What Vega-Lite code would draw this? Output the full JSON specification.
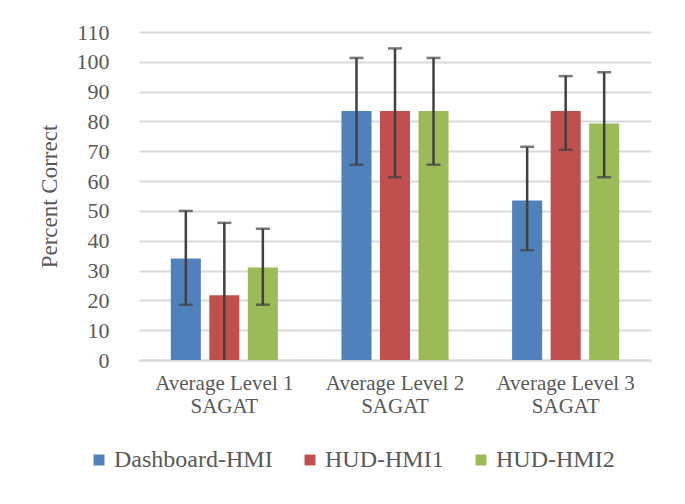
{
  "$schema": "https://vega.github.io/schema/vega-lite/v6.json",
  "autosize": {"type": "none"},
  "width": 512,
  "height": 328,
  "padding": {"left": 139, "top": 32, "right": 34, "bottom": 144},
  "background": "white",
  "config": {
    "font": "Liberation Serif",
    "view": {"stroke": null},
    "axis": {"labelColor": "#595959", "titleColor": "#595959", "labelFont": "Liberation Serif", "titleFont": "Liberation Serif"},
    "axisY": {
      "values": [0, 10, 20, 30, 40, 50, 60, 70, 80, 90, 100, 110],
      "domain": false, "ticks": false, "gridColor": "#d9d9d9", "gridWidth": 2,
      "labelFontSize": 22, "labelPadding": 30, "titleFontSize": 23, "titleFontWeight": "normal", "titlePadding": 15
    },
    "legend": {"labelFont": "Liberation Serif"}
  },
  "data": {
    "values": [
      {"group": "Average Level 1 SAGAT", "series": "Dashboard-HMI", "value": 34, "lower": 18.5, "upper": 50},
      {"group": "Average Level 1 SAGAT", "series": "HUD-HMI1", "value": 21.7, "lower": -2, "upper": 46},
      {"group": "Average Level 1 SAGAT", "series": "HUD-HMI2", "value": 31, "lower": 18.5, "upper": 44},
      {"group": "Average Level 2 SAGAT", "series": "Dashboard-HMI", "value": 83.5, "lower": 65.5, "upper": 101.3},
      {"group": "Average Level 2 SAGAT", "series": "HUD-HMI1", "value": 83.5, "lower": 61.3, "upper": 104.5},
      {"group": "Average Level 2 SAGAT", "series": "HUD-HMI2", "value": 83.5, "lower": 65.5, "upper": 101.3},
      {"group": "Average Level 3 SAGAT", "series": "Dashboard-HMI", "value": 53.5, "lower": 36.8, "upper": 71.5},
      {"group": "Average Level 3 SAGAT", "series": "HUD-HMI1", "value": 83.5, "lower": 70.5, "upper": 95.2},
      {"group": "Average Level 3 SAGAT", "series": "HUD-HMI2", "value": 79.3, "lower": 61.3, "upper": 96.5}
    ]
  },
  "encoding": {
    "x": {
      "field": "group", "type": "nominal", "sort": null,
      "scale": {"paddingInner": 0.323, "paddingOuter": 0.1615},
      "axis": {
        "title": null, "labelAngle": 0, "ticks": false,
        "domainColor": "#d9d9d9", "domainWidth": 2,
        "labelFontSize": 21, "labelLineHeight": 23, "labelPadding": 12,
        "labelExpr": "[replace(datum.label, ' SAGAT', ''), 'SAGAT']"
      }
    },
    "xOffset": {
      "field": "series", "type": "nominal", "sort": ["Dashboard-HMI", "HUD-HMI1", "HUD-HMI2"],
      "scale": {"paddingInner": 0.22, "paddingOuter": 0.11}
    }
  },
  "layer": [
    {
      "mark": {"type": "bar"},
      "encoding": {
        "y": {
          "field": "value", "type": "quantitative",
          "scale": {"domain": [0, 110], "nice": false},
          "title": "Percent Correct"
        },
        "color": {
          "field": "series", "type": "nominal", "title": null,
          "sort": ["Dashboard-HMI", "HUD-HMI1", "HUD-HMI2"],
          "scale": {"domain": ["Dashboard-HMI", "HUD-HMI1", "HUD-HMI2"], "range": ["#4f81bd", "#c0504d", "#9bbb59"]},
          "legend": {
            "orient": "none", "legendX": -52, "legendY": 416, "direction": "horizontal", "symbolType": "square", "symbolSize": 120,
            "symbolStrokeWidth": 0, "labelFontSize": 24, "labelColor": "#595959", "columnPadding": 25,
            "labelOffset": 3
          }
        }
      }
    },
    {
      "mark": {"type": "rule", "color": "#404040", "strokeWidth": 2.5, "clip": true},
      "encoding": {
        "y": {"field": "lower", "type": "quantitative", "title": "Percent Correct"},
        "y2": {"field": "upper"}
      }
    },
    {
      "mark": {"type": "tick", "color": "#404040", "thickness": 2.5, "size": 14, "clip": true},
      "encoding": {"y": {"field": "upper", "type": "quantitative", "title": "Percent Correct"}}
    },
    {
      "mark": {"type": "tick", "color": "#404040", "thickness": 2.5, "size": 14, "clip": true},
      "encoding": {"y": {"field": "lower", "type": "quantitative", "title": "Percent Correct"}}
    }
  ]
}
